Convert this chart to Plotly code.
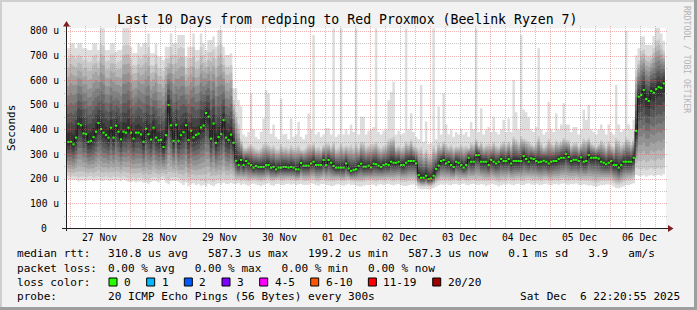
import plotly.graph_objects as go

# ---------------- data ----------------
FIRST_HOUR = -1          # first hourly column starts 26 Nov 23:00 (hours from 27 Nov 00:00)

median = [
    349, 350, 340, 367, 423, 417, 384, 381, 350, 354,
    369, 391, 426, 402, 387, 378, 367, 407, 367, 415,
    391, 360, 391, 387, 407, 387, 363, 387, 387, 380,
    350, 403, 381, 359, 407, 367, 356, 357, 329, 377,
    499, 417, 354, 419, 354, 377, 389, 417, 357, 395,
    368, 378, 383, 408, 416, 467, 452, 363, 424, 346,
    369, 381, 438, 367, 357, 379, 346, 273, 256, 276,
    256, 272, 262, 256, 245, 252, 248, 248, 248, 256,
    256, 245, 248, 238, 245, 245, 248, 248, 245, 248,
    245, 238, 238, 264, 253, 253, 253, 262, 269,
    256, 256, 256, 276, 256, 276, 265, 252, 245, 245,
    245, 245, 262, 242, 232, 236, 239, 252, 261, 249,
    249, 253, 246, 261, 259, 253, 248, 256, 259, 256,
    269, 265, 265, 269, 256, 256, 265, 272, 272, 272,
    262, 215, 204, 204, 212, 199, 201, 212,
    240, 253, 272, 276, 262, 268, 256, 248, 269, 265,
    256, 245, 256, 285, 269, 269, 296, 296, 269, 269,
    269, 256, 276, 269, 262, 269, 280, 272, 272, 280,
    262, 272, 272, 272, 272, 292, 280, 269, 283, 280,
    272, 267, 269, 273, 269, 262, 269, 272,
    272, 280, 285, 285, 300, 288, 272, 277, 277, 272,
    287, 269, 272, 296, 285, 285, 285, 282, 269, 265,
    259, 265, 272, 256, 256, 245, 256, 269, 269, 269,
    269, 285, 394, 533, 540, 560, 524, 516, 556, 549,
    564, 572, 569, 587,
]

ping_min = [
    198, 197, 195, 196, 190, 193, 195, 192, 194, 196,
    190, 194, 195, 193, 190, 196, 192, 190, 195, 193,
    194, 190, 196, 192, 188, 186, 190, 185, 188, 190,
    184, 186, 180, 187, 192, 190, 186, 194, 195, 185,
    178, 190, 193, 192, 188, 182, 175, 185, 170, 178,
    182, 175, 180, 172, 176, 168, 180, 175, 170, 178,
    182, 176, 185, 180, 178, 184, 180,
    178, 182, 175, 180, 176, 172, 178, 181, 177, 174,
    170, 176, 179, 182, 175, 172, 178, 180, 176, 174,
    178, 181, 176, 179, 174, 177, 180, 175, 178, 176,
    182, 179, 175, 172, 178, 180, 176, 174, 170, 173,
    176, 179, 175, 172, 176, 180, 174, 177, 173, 170,
    168, 172, 176, 174, 178, 175, 171, 176, 179, 174,
    177, 180, 176, 173, 177, 179, 175, 172, 170, 174,
    176, 178, 172,
    160, 156, 155, 158, 154, 157, 162,
    168, 174, 178, 176, 180, 176, 174, 178, 180, 175,
    178, 181, 176, 174, 178, 180, 177, 175, 179, 176,
    172, 176, 180, 178, 175, 170, 174, 178, 176, 180,
    177, 174, 178, 181, 176, 174, 179, 182, 178, 175,
    180, 177, 174, 178, 181, 176, 173, 177, 180, 176,
    179, 182, 178, 175, 180, 177, 181, 176, 174, 178,
    176, 172, 175, 170, 166, 172, 176, 174, 178, 175,
    176, 168, 162, 160, 165, 170, 176, 174, 178, 182,
    215, 212, 210, 214, 208, 212, 215, 210, 213, 216, 212, 218,
]

lower = [
    212, 210, 208, 210, 205, 208, 210, 206, 208, 211,
    205, 208, 210, 207, 204, 210, 206, 205, 209, 207,
    208, 204, 210, 206, 203, 201, 205, 200, 203, 205,
    199, 201, 196, 202, 207, 205, 201, 208, 210, 200,
    194, 205, 208, 207, 203, 198, 192, 200, 188, 195,
    198, 192, 196, 190, 193, 186, 196, 192, 188, 195,
    198, 193, 200, 196, 195, 200, 196,
    192, 195, 190, 194, 191, 188, 193, 195, 192, 190,
    187, 191, 194, 196, 190, 188, 193, 195, 191, 190,
    193, 195, 191, 194, 190, 192, 195, 190, 193, 191,
    196, 194, 190, 188, 193, 195, 191, 190, 187, 189,
    191, 194, 190, 188, 191, 195, 190, 192, 189, 187,
    185, 188, 191, 190, 193, 190, 187, 191, 194, 190,
    192, 195, 191, 189, 192, 194, 190, 188, 187, 190,
    191, 193, 188,
    172, 170, 168, 171, 168, 170, 176,
    183, 189, 193, 191, 195, 191, 190, 193, 195, 190,
    193, 196, 191, 190, 193, 195, 192, 190, 194, 191,
    188, 191, 195, 193, 190, 186, 190, 193, 191, 195,
    192, 190, 193, 196, 191, 190, 194, 197, 193, 190,
    195, 192, 190, 193, 196, 191, 189, 192, 195, 191,
    194, 197, 193, 190, 195, 192, 196, 191, 190, 193,
    191, 188, 190, 186, 182, 187, 191, 190, 193, 190,
    192, 184, 178, 176, 180, 186, 191, 190, 193, 197,
    245, 240, 236, 242, 235, 240, 244, 238, 241, 245, 240, 246,
]

upper = [
    690, 705, 700, 688, 702, 698, 680, 685, 672, 676,
    700, 704, 676, 745, 740, 676, 680, 702, 705, 668,
    676, 680, 740, 745, 742, 688, 662, 660, 700, 688,
    702, 705, 735, 662, 660, 702, 650, 648, 638, 688,
    690, 735, 702, 700, 730, 735, 730, 650, 688, 690,
    735, 676, 680, 735, 702, 676, 712, 715, 725, 688,
    740, 745, 690, 655, 655, 662, 520,
    470, 420, 360, 330, 325, 335, 340, 330, 322, 318,
    325, 340, 345, 338, 330, 335, 322, 320, 340, 326,
    330, 322, 336, 325, 328, 334, 320, 318, 326, 340,
    335, 345, 326, 330, 322, 336, 345, 342, 330, 350,
    322, 326, 345, 328, 335, 330, 338, 326, 345, 325,
    350, 348, 330, 336, 340, 342, 350, 332, 326, 334,
    338, 360, 365, 370, 330, 335, 328, 332, 352, 340,
    358, 334, 330, 322, 330, 305, 320, 300, 302, 335,
    318, 345, 332, 350, 340, 330, 338, 325, 332, 330,
    338, 330, 334, 326, 345, 340, 360, 335, 350, 330,
    338, 342, 334, 350, 336, 330, 342, 352, 338, 352,
    340, 370, 360, 345, 372, 362, 358, 352, 342, 335,
    345, 372, 345, 330, 338, 360, 345, 338, 355, 345,
    352, 365, 358, 356, 336, 345, 348, 332, 342, 362,
    355, 365, 345, 338, 330, 342, 356, 345, 332, 352,
    336, 330, 365, 355, 338, 345, 368, 358, 345, 362,
    640, 680, 720, 725, 700, 695, 700, 730, 760, 765, 745, 720,
]

ping_max = [
    730, 750, 750, 730, 750, 750, 730, 730, 723, 723,
    750, 750, 723, 813, 813, 723, 723, 750, 750, 716,
    723, 723, 813, 813, 813, 736, 709, 709, 750, 736,
    750, 750, 790, 709, 709, 750, 696, 696, 682, 736,
    736, 790, 750, 750, 784, 784, 784, 696, 736, 736,
    790, 723, 723, 790, 750, 723, 763, 763, 777, 736,
    805, 805, 736, 702, 702, 709, 567,
    567, 520, 493, 380, 370, 390, 547, 400, 370, 360,
    390, 445, 560, 547, 383, 420, 370, 360, 526, 380,
    383, 360, 445, 370, 380, 430, 370, 360, 380, 466,
    400, 784, 380, 390, 370, 380, 405, 405, 380, 811,
    370, 380, 811, 380, 400, 380, 420, 390, 811, 380,
    452, 452, 380, 395, 400, 410, 811, 390, 380, 395,
    400, 519, 553, 594, 380, 395, 380, 385, 811, 400,
    466, 390, 370, 360, 581, 350, 432, 340, 345, 811,
    360, 493, 380, 547, 420, 380, 400, 370, 390, 380,
    400, 380, 390, 370, 430, 400, 811, 390, 486, 380,
    400, 410, 390, 452, 390, 380, 400, 440, 390, 445,
    390, 601, 470, 400, 784, 480, 470, 450, 400, 390,
    410, 730, 400, 380, 390, 513, 400, 390, 466, 400,
    420, 506, 420, 420, 390, 410, 410, 380, 400, 480,
    440, 499, 400, 390, 380, 400, 420, 400, 380, 420,
    390, 380, 581, 420, 390, 400, 800, 420, 400, 440,
    700, 730, 777, 777, 743, 743, 743, 780, 812, 812, 790, 760,
]

day_labels = ["27 Nov", "28 Nov", "29 Nov", "30 Nov", "01 Dec",
              "02 Dec", "03 Dec", "04 Dec", "05 Dec", "06 Dec"]
y_tick_values = [0, 100, 200, 300, 400, 500, 600, 700, 800]
y_tick_labels = ["0\u00a0\u00a0", "100 u", "200 u", "300 u", "400 u",
                 "500 u", "600 u", "700 u", "800 u"]

title_text = "Last 10 Days from redping to Red Proxmox (Beelink Ryzen 7)"
y_title = "Seconds"
legend_rows = [
    ("median rtt:", "310.8 us avg   587.3 us max   199.2 us min   587.3 us now   0.1 ms sd   3.9   am/s"),
    ("packet loss:", "0.00 % avg   0.00 % max   0.00 % min   0.00 % now"),
    ("loss color:", ""),
    ("probe:", "20 ICMP Echo Pings (56 Bytes) every 300s"),
]
loss_labels = ["0", "1", "2", "3", "4-5", "6-10", "11-19", "20/20"]
loss_colors = ["#26ff00", "#00b8ff", "#0059ff", "#7e00ff", "#ff00ff", "#ff5500", "#ff0000", "#a10000"]
timestamp = "Sat Dec  6 22:20:55 2025"
watermark = "RRDTOOL / TOBI OETIKER"

for arr in (median, ping_min, lower, upper, ping_max):
    assert len(arr) == len(median), len(arr)

# ---------------- layout geometry ----------------
W, H = 697, 310
ML, MR, MT, MB = 66, 31, 28, 82
XR = [-1.5, 238.4]
YR = [0, 812]
PW, PH = W - ML - MR, H - MT - MB
FONT = "DejaVu Sans Mono"

def pxx(px):
    return (px - ML) / PW

def pxy(py):
    return (H - MB - py) / PH

def x_to_px(x):
    return ML + (x - XR[0]) / (XR[1] - XR[0]) * PW

def y_to_px(y):
    return H - MB - (y - YR[0]) / (YR[1] - YR[0]) * PH

n = len(median)
edges = [FIRST_HOUR + j for j in range(n + 1)]

def band(lo, hi):
    xs, ys = [], []
    for j in range(n):
        xs += [edges[j], edges[j + 1]]
        ys += [hi[j], hi[j]]
    for j in range(n - 1, -1, -1):
        xs += [edges[j + 1], edges[j]]
        ys += [lo[j], lo[j]]
    xs.append(xs[0]); ys.append(ys[0])
    return xs, ys

fig = go.Figure()

# smoke layers (SmokePing style: 10 gray levels)
half = 10
for i in range(1, half + 1):
    g = int(190 / half * (half - i)) + 50
    col = "rgb(%d,%d,%d)" % (g, g, g)
    if i == 1:
        lo, hi = ping_min, ping_max
    elif i == 2:
        lo, hi = lower, upper
    else:
        f = (half + 1 - i) / (half - 1)
        lo = [m - f * (m - l) for m, l in zip(median, lower)]
        hi = [m + f * (u - m) for m, u in zip(median, upper)]
    xs, ys = band(lo, hi)
    fig.add_trace(go.Scatter(x=xs, y=ys, mode="lines", fill="toself",
                             fillcolor=col, line=dict(width=0, color=col),
                             hoverinfo="skip", showlegend=False))

# median: dark step line + green loss-colour segments
mx, my = [], []
gx, gy = [], []
for j in range(n):
    mx += [edges[j], edges[j + 1]]
    my += [median[j], median[j]]
    gx += [edges[j] + 0.05, edges[j + 1] - 0.05, None]
    gy += [median[j], median[j], None]
fig.add_trace(go.Scatter(x=mx, y=my, mode="lines", line=dict(color="#1a1a1a", width=1),
                         hoverinfo="skip", showlegend=False))
fig.add_trace(go.Scatter(x=gx, y=gy, mode="lines", line=dict(color=loss_colors[0], width=2),
                         hoverinfo="skip", showlegend=False))

shapes = []
GRID = "rgba(143,143,143,0.5)"
MGRID = "rgba(222,79,79,0.42)"
left_px, right_px = x_to_px(XR[0]), x_to_px(XR[1])
top_px, bot_px = y_to_px(YR[1]), y_to_px(YR[0])

# horizontal grid
for v in range(50, 801, 50):
    py = round(y_to_px(v)) + 0.5
    shapes.append(dict(type="line", xref="paper", yref="paper", layer="above",
                       x0=pxx(left_px - 2), x1=pxx(right_px + 2), y0=pxy(py), y1=pxy(py),
                       line=dict(color=MGRID if v % 100 == 0 else GRID, width=1, dash="1px,1px")))
# vertical grid
for h in range(0, 239, 6):
    px = round(x_to_px(h)) + 0.5
    shapes.append(dict(type="line", xref="paper", yref="paper", layer="above",
                       x0=pxx(px), x1=pxx(px), y0=pxy(top_px - 2), y1=pxy(bot_px + 2),
                       line=dict(color=MGRID if h % 24 == 0 else GRID, width=1, dash="1px,1px")))

AXIS = "#1f1f1f"
ARROW = "#801f1f"
ax_y = bot_px + 0.5
shapes.append(dict(type="line", xref="paper", yref="paper", layer="above",
                   x0=pxx(left_px - 4), x1=pxx(right_px + 3), y0=pxy(ax_y), y1=pxy(ax_y),
                   line=dict(color=AXIS, width=1)))
ax_x = left_px + 0.5
shapes.append(dict(type="line", xref="paper", yref="paper", layer="above",
                   x0=pxx(ax_x), x1=pxx(ax_x), y0=pxy(bot_px + 3), y1=pxy(top_px - 4),
                   line=dict(color=AXIS, width=1)))
# arrows
def tri(p1, p2, p3):
    pts = [p1, p2, p3]
    return "M " + " L ".join("%f,%f" % (pxx(a), pxy(b)) for a, b in pts) + " Z"
shapes.append(dict(type="path", xref="paper", yref="paper", layer="above",
                   path=tri((right_px + 2, ax_y - 3.5), (right_px + 7.5, ax_y), (right_px + 2, ax_y + 3.5)),
                   fillcolor=ARROW, line=dict(width=0)))
shapes.append(dict(type="path", xref="paper", yref="paper", layer="above",
                   path=tri((ax_x - 3.5, top_px - 1.5), (ax_x, top_px - 7), (ax_x + 3.5, top_px - 1.5)),
                   fillcolor=ARROW, line=dict(width=0)))

# frame shading
shapes += [
    dict(type="rect", xref="paper", yref="paper", layer="above", x0=pxx(0), x1=pxx(W), y0=pxy(0), y1=pxy(2),
         fillcolor="#cfcfcf", line=dict(width=0)),
    dict(type="rect", xref="paper", yref="paper", layer="above", x0=pxx(0), x1=pxx(2), y0=pxy(0), y1=pxy(H),
         fillcolor="#cfcfcf", line=dict(width=0)),
    dict(type="rect", xref="paper", yref="paper", layer="above", x0=pxx(W - 3), x1=pxx(W), y0=pxy(0), y1=pxy(H),
         fillcolor="#9e9e9e", line=dict(width=0)),
    dict(type="rect", xref="paper", yref="paper", layer="above", x0=pxx(0), x1=pxx(W), y0=pxy(H - 3), y1=pxy(H),
         fillcolor="#9e9e9e", line=dict(width=0)),
]

ann = []
def text(x, y, s, size, xanchor="left", xref="paper", yref="paper", color="#000000", angle=0):
    ann.append(dict(x=x, y=y, xref=xref, yref=yref, text=s, showarrow=False,
                    xanchor=xanchor, yanchor="middle", textangle=angle, borderpad=0,
                    font=dict(family=FONT, size=size, color=color)))

text(pxx(347), pxy(19), title_text, 13.2, xanchor="center")
text(pxx(11), pxy(128), y_title, 11, xanchor="center", angle=-90)
text(pxx(687), pxy(59), watermark, 8.1, xanchor="center", color="#b4b4b4", angle=90)

for v, lab in zip(y_tick_values, y_tick_labels):
    text(pxx(59.5), v, lab, 9.7, xanchor="right", yref="y")
for i, lab in enumerate(day_labels):
    text(12 + 24 * i, pxy(237.5), lab, 9.7, xanchor="center", xref="x")

LEG = 11.08
CW = LEG * 0.602
row_y = [254, 268, 282, 296]
for (lab, vals), ry in zip(legend_rows, row_y):
    text(pxx(16), pxy(ry), lab, LEG)
    if vals:
        text(pxx(107.3), pxy(ry), vals, LEG)
text(pxx(680.5), pxy(row_y[3]), timestamp, LEG, xanchor="right")

bx = 108.5
for lab, col in zip(loss_labels, loss_colors):
    shapes.append(dict(type="rect", xref="paper", yref="paper", layer="above",
                       x0=pxx(bx + 0.5), x1=pxx(bx + 8.5), y0=pxy(row_y[2] - 4), y1=pxy(row_y[2] + 4),
                       fillcolor=col, line=dict(color="#000000", width=1)))
    text(pxx(bx + 14.5), pxy(row_y[2]), lab, LEG)
    bx = bx + 14.5 + len(lab) * CW + 16.5

fig.update_layout(
    width=W, height=H, autosize=False,
    margin=dict(l=ML, r=MR, t=MT, b=MB, pad=0),
    paper_bgcolor="#f2f2f2", plot_bgcolor="#ffffff",
    showlegend=False,
    xaxis=dict(range=XR, showgrid=False, zeroline=False, showticklabels=False, ticks="", fixedrange=True),
    yaxis=dict(range=YR, showgrid=False, zeroline=False, showticklabels=False, ticks="", fixedrange=True),
    shapes=shapes, annotations=ann,
)

fig.write_html("out.html", config={"displayModeBar": False})
